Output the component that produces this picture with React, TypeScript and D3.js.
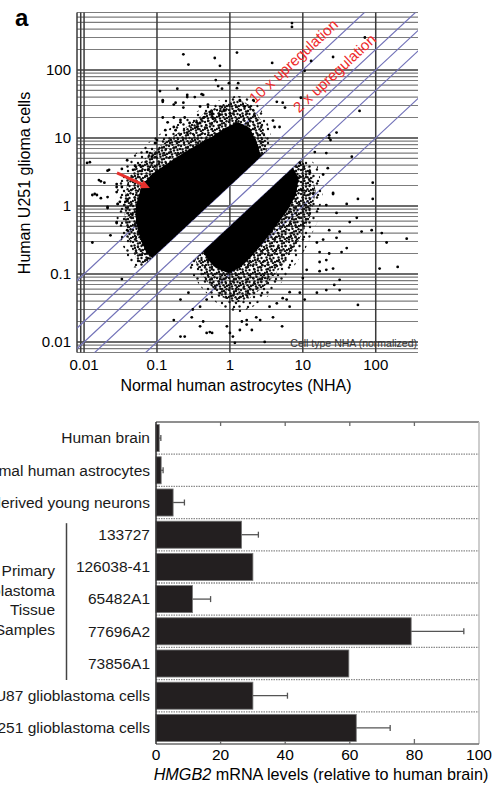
import React from 'react';
import * as d3 from 'd3';

// ---- scatter (panel a) data ----
const decadeTicks = [0.01, 0.1, 1, 10, 100];
const decadeLabels = ['0.01', '0.1', '1', '10', '100'];
const extraVerticalGrid = [0.008, 0.009];
const foldLines = [10, 2, 1, 0.5, 0.1];

// outlines of the dense parts of the two clouds [NHA, U251]
const upperCoreOutline: [number, number][] = [
  [0.0515, 1.03], [0.0623, 2.04], [0.0855, 2.96], [0.129, 4.0], [0.207, 5.62], [0.332, 7.63],
  [0.532, 10], [0.855, 14], [1.29, 17.2], [1.88, 14], [2.42, 7.89], [2.66, 5.32],
  [0.0855, 0.171], [0.0707, 0.211], [0.0585, 0.338], [0.0515, 0.58],
];
const upperHaloOutline: [number, number][] = [
  [0.0353, 1.22], [0.0401, 2.41], [0.055, 4.0], [0.0855, 6.22], [0.1415, 9.35], [0.242, 14],
  [0.413, 21.8], [0.73, 30.6], [1.29, 36.2], [2.0, 30.6], [2.74, 17.2], [3.11, 10], [3.21, 6.42],
  [0.0707, 0.141], [0.055, 0.15], [0.0427, 0.267], [0.0365, 0.58],
];
const upperFringeOutline: [number, number][] = [
  [0.027, 1.22], [0.031, 3.0], [0.043, 5.0], [0.068, 7.8], [0.113, 11.7], [0.2, 16.5],
  [0.36, 25], [0.65, 35], [1.25, 42], [2.2, 36], [3.2, 19], [3.7, 10.5], [3.8, 7.6],
  [0.062, 0.124], [0.045, 0.125], [0.034, 0.26], [0.028, 0.58],
];
const lowerCoreOutline: [number, number][] = [
  [0.427, 0.2135], [7.29, 3.65], [8.81, 2.58], [8.02, 1.45], [6.23, 0.873], [4.27, 0.508],
  [2.92, 0.296], [2.0, 0.184], [1.37, 0.1225], [0.939, 0.1035], [0.643, 0.1225], [0.5, 0.161],
];
const lowerHaloOutline: [number, number][] = [
  [0.332, 0.166], [9.4, 4.7], [12.9, 3.38], [15.1, 1.61], [12.5, 0.667], [8.55, 0.296],
  [5.3, 0.1355], [3.11, 0.0689], [1.88, 0.0444], [1.21, 0.0375], [0.777, 0.0459], [0.5, 0.0738], [0.376, 0.115],
];
const lowerFringeOutline: [number, number][] = [
  [0.27, 0.135], [11, 5.5], [16, 3.8], [19, 1.6], [16, 0.6], [11, 0.24], [6.5, 0.1],
  [3.6, 0.05], [2.0, 0.032], [1.2, 0.026], [0.7, 0.035], [0.42, 0.06], [0.3, 0.1],
];

// scattered single genes [NHA, U251]
const outlierPoints: [number, number][] = [
  [0.23, 170], [0.27, 120], [0.62, 150], [0.73, 115], [1.25, 180], [0.64, 71], [0.69, 58], [0.78, 53],
  [0.97, 64], [1.25, 54], [1.3, 64], [0.011, 4.3], [0.021, 3.3], [0.017, 2.3], [0.019, 2.2], [0.028, 2.1],
  [0.039, 2.6], [0.047, 3.4], [0.05, 3.9], [0.12, 36], [0.11, 49], [0.19, 53], [0.18, 33], [0.23, 28],
  [0.26, 40], [0.33, 40], [0.43, 43], [0.39, 29], [0.5, 31], [0.53, 24], [0.12, 20], [0.17, 20],
  [0.21, 17], [0.24, 20], [0.17, 14.5], [0.13, 13], [0.26, 12], [0.35, 14.5], [0.39, 16.6], [0.58, 20],
  [0.73, 22], [0.013, 1.45], [0.021, 1.35], [0.028, 1.6], [0.033, 1.9], [0.073, 6.2], [0.085, 5.3],
  [0.058, 4], [0.1, 9.3], [0.094, 8.4], [0.075, 3.4],
  [7.1, 490], [7.1, 430], [3.8, 127], [13, 136], [26, 155], [10.6, 97], [71, 300], [9.4, 39], [60, 25],
  [23, 11], [29, 12], [23, 10], [24, 9.3], [14.6, 6.2], [21, 6], [9.1, 4.3], [47, 5.3], [22, 3.6],
  [19, 2.9], [12.5, 3.1], [26, 1.55], [91, 2.2], [14, 1.55], [9.7, 1.7], [4.4, 34], [5.3, 33], [5.7, 28],
  [1.6, 29], [2.1, 36], [4.1, 14.5], [3.9, 18], [4.8, 14.5],
  [26, 1.5], [57, 1.27], [91, 1.27], [40, 1.07], [21, 1.03], [29, 0.79], [55, 0.67], [88, 0.44],
  [121, 0.4], [141, 0.29], [266, 0.33], [44, 0.58], [32, 0.42], [64, 0.42], [23, 0.44], [29, 0.34],
  [19, 0.32], [15.6, 0.29], [40, 0.24], [34, 0.21], [23, 0.2], [17, 0.21], [21, 0.16], [17, 0.15],
  [26, 0.12], [21, 0.115], [11.3, 0.115], [17, 0.11], [113, 0.12], [200, 0.127], [32, 0.082], [32, 0.058],
  [10, 0.087], [10.6, 0.042], [6.6, 0.054], [5.3, 0.044], [57, 0.035], [6.6, 0.033], [3.9, 0.023],
  [5.2, 0.017], [2.6, 0.021], [2, 0.015], [3, 0.01], [1.7, 0.018], [1.46, 0.02],
  [0.015, 1.45], [0.021, 0.97], [0.029, 1.07], [0.037, 1.15], [0.028, 0.58], [0.046, 0.74], [0.058, 0.67],
  [0.039, 0.44], [0.064, 0.27], [0.073, 0.2], [0.075, 0.17], [0.033, 0.084], [0.21, 0.042], [0.27, 0.053],
  [0.21, 0.012], [0.24, 0.012], [0.48, 0.0136], [0.53, 0.014], [0.39, 0.017], [0.43, 0.02], [0.17, 0.021],
  [0.3, 0.023], [0.31, 0.03], [0.39, 0.033], [0.48, 0.042], [0.91, 0.017], [1, 0.0136], [1.1, 0.012],
  [1.37, 0.015], [1.17, 0.0097],
  [0.57, 0.0136], [1.7, 0.021], [2.3, 0.023], [3.5, 0.033], [4.4, 0.037], [6, 0.042], [9.1, 0.053],
  [15.6, 0.053], [21, 0.058], [27, 0.069],
  [0.012, 4.4], [0.022, 3.4], [0.033, 3.5], [0.016, 2.4], [0.014, 1.5], [0.017, 1.3], [0.028, 1.9],
  [0.031, 1.15], [0.039, 1.2], [0.021, 0.93], [0.013, 0.29], [0.023, 0.37], [0.028, 0.56], [0.039, 4.7],
  [0.12, 34], [0.17, 31], [0.23, 33], [0.26, 43], [0.41, 44], [0.14, 17], [0.21, 18.4], [0.18, 13],
  [0.28, 16.6], [0.35, 17], [0.44, 20], [0.57, 23], [0.83, 26], [1, 23], [1.37, 36],
];
const arrowFrom: [number, number] = [0.0283, 3.06];
const arrowTo: [number, number] = [0.08, 1.84];

// ---- bar chart data ----
const barCategories = [
  'Human brain', 'Normal human astrocytes', 'ESC-derived young neurons', '133727', '126038-41',
  '65482A1', '77696A2', '73856A1', 'U87 glioblastoma cells', 'U251 glioblastoma cells',
];
const barValues = [1.0, 1.6, 5.3, 26.5, 30.0, 11.3, 79.0, 59.7, 30.0, 62.0];
const barErrors = [0.5, 0.6, 3.5, 5.2, 0, 5.6, 16.3, 0, 10.7, 10.5];
const barTicks = [0, 20, 40, 60, 80, 100];
const groupLabel = ['Primary', 'Glioblastoma', 'Tissue', 'Samples'];

const font = 'Liberation Sans, Arial, Helvetica, sans-serif';

// irregular speckle tiles used to fill the fringes of the clouds
const speckleDots = [
  [1, 2], [4.5, 0.8], [8, 3], [10.5, 1.2], [2.5, 5.5], [6, 6.5], [9.5, 6], [0.8, 9],
  [4, 10.5], [7.5, 9.3], [11, 10], [6, 3.5], [3, 8], [9, 11.2],
];
const sparseDots = [[2, 3], [9, 1.5], [5.5, 8], [12, 9], [1.5, 12.5], [10, 13]];

const App = () => {
  // scatter scales
  const x = d3.scaleLog().domain([0.008, 380]).range([77, 418]);
  const y = d3.scaleLog().domain([0.007, 700]).range([352.5, 12.5]);
  const yGrid = y.ticks();
  const isDecade = (v: number) => Math.abs(Math.log10(v) - Math.round(Math.log10(v))) < 1e-6;
  const outline = d3.line<[number, number]>().x(d => x(d[0])).y(d => y(d[1])).curve(d3.curveLinearClosed);

  // bar scales
  const xb = d3.scaleLinear().domain([0, 100]).range([156, 479]);
  const pad = 0.16;
  const yb = d3.scaleBand().domain(barCategories).range([422, 744]).paddingInner(pad).paddingOuter(pad / 2);
  const step = yb.step();

  const ax = x(arrowFrom[0]), ay = y(arrowFrom[1]);
  const hx = x(arrowTo[0]), hy = y(arrowTo[1]);
  const ang = Math.atan2(hy - ay, hx - ax);
  const head = [
    [hx, hy],
    [hx - 9 * Math.cos(ang) + 4.5 * Math.sin(ang), hy - 9 * Math.sin(ang) - 4.5 * Math.cos(ang)],
    [hx - 9 * Math.cos(ang) - 4.5 * Math.sin(ang), hy - 9 * Math.sin(ang) + 4.5 * Math.cos(ang)],
  ];

  return (
    <svg width={499} height={785} style={{ position: 'absolute', left: 0, top: 0, fontFamily: font }}>
      <defs>
        <clipPath id="plotClip">
          <rect x={77} y={12.5} width={341} height={340} />
        </clipPath>
        <pattern id="speckle" width={12} height={12} patternUnits="userSpaceOnUse">
          {speckleDots.map((d, i) => (
            <circle key={i} cx={d[0]} cy={d[1]} r={1.2} fill="#111" />
          ))}
        </pattern>
        <pattern id="sparse" width={14} height={14} patternUnits="userSpaceOnUse">
          {sparseDots.map((d, i) => (
            <circle key={i} cx={d[0]} cy={d[1]} r={1.2} fill="#111" />
          ))}
        </pattern>
      </defs>

      {/* panel label */}
      <text x={15} y={26} fontSize={24} fontWeight="bold">a</text>

      {/* grid */}
      {yGrid.map((v, i) => (
        <line key={'h' + i} x1={77} x2={418} y1={y(v)} y2={y(v)}
          stroke={isDecade(v) ? '#3a3a3a' : '#7c7c7c'} strokeWidth={isDecade(v) ? 1.6 : 1.2} />
      ))}
      {[...extraVerticalGrid, ...decadeTicks].map((v, i) => (
        <line key={'v' + i} x1={x(v)} x2={x(v)} y1={12.5} y2={352.5} stroke="#3a3a3a" strokeWidth={1.5} />
      ))}

      <g clipPath="url(#plotClip)">
        {foldLines.map(k => (
          <line key={'f' + k} x1={x(0.001)} y1={y(0.001 * k)} x2={x(1000)} y2={y(1000 * k)}
            stroke="#7272b8" strokeWidth={1.2} />
        ))}
        <path d={outline(upperFringeOutline) ?? ''} fill="url(#sparse)" />
        <path d={outline(lowerFringeOutline) ?? ''} fill="url(#sparse)" />
        <path d={outline(upperHaloOutline) ?? ''} fill="url(#speckle)" />
        <path d={outline(lowerHaloOutline) ?? ''} fill="url(#speckle)" />
        <path d={outline(upperCoreOutline) ?? ''} fill="#000" />
        <path d={outline(lowerCoreOutline) ?? ''} fill="#000" />
        {outlierPoints.map((p, i) => (
          <circle key={'p' + i} cx={x(p[0])} cy={y(p[1])} r={1.4} fill="#000" />
        ))}
      </g>

      {/* arrow */}
      <line x1={ax} y1={ay} x2={hx - 6 * Math.cos(ang)} y2={hy - 6 * Math.sin(ang)} stroke="#e8302c" strokeWidth={3} />
      <polygon points={head.map(p => p.join(',')).join(' ')} fill="#e8302c" />

      {/* fold labels */}
      <text transform="translate(297,65) rotate(-43)" textAnchor="middle" fontSize={15} fill="#ee2a2a">10 x upregulation</text>
      <text transform="translate(338,77) rotate(-43)" textAnchor="middle" fontSize={15} fill="#ee2a2a">2 x upregulation</text>

      <text x={417} y={347} textAnchor="end" fontSize={10.5} fill="#333">Cell type NHA (normalized)</text>

      {/* scatter axes */}
      {decadeTicks.map((v, i) => (
        <text key={'xt' + i} x={x(v)} y={370} textAnchor="middle" fontSize={15}>{decadeLabels[i]}</text>
      ))}
      {decadeTicks.map((v, i) => (
        <text key={'yt' + i} x={71} y={y(v) + 5.3} textAnchor="end" fontSize={15}>{decadeLabels[i]}</text>
      ))}
      <text x={236} y={391} textAnchor="middle" fontSize={16}>Normal human astrocytes (NHA)</text>
      <text transform="translate(30,183) rotate(-90)" textAnchor="middle" fontSize={16}>Human U251 glioma cells</text>

      {/* ---- bar chart ---- */}
      {barCategories.slice(1).map((c, i) => {
        const yy = (yb(c) ?? 0) - (step * pad) / 2;
        return (
          <line key={'sep' + i} x1={xb(0)} x2={xb(100)} y1={yy} y2={yy}
            stroke="#8a8a8a" strokeWidth={1.3} strokeDasharray="1.5,1" />
        );
      })}
      <line x1={xb(0)} x2={xb(100)} y1={422} y2={422} stroke="#6a6a6a" strokeWidth={1.5} />
      <line x1={xb(100)} x2={xb(100)} y1={422} y2={744} stroke="#bdbdbd" strokeWidth={1.5} />
      <line x1={xb(0)} x2={xb(100)} y1={744} y2={744} stroke="#6a6a6a" strokeWidth={1.5} />
      {barTicks.slice(1, -1).map(t => (
        <g key={'bt' + t}>
          <line x1={xb(t)} x2={xb(t)} y1={422} y2={426} stroke="#6a6a6a" strokeWidth={1.3} />
          <line x1={xb(t)} x2={xb(t)} y1={744} y2={739} stroke="#6a6a6a" strokeWidth={1.3} />
        </g>
      ))}

      {barCategories.map((c, i) => {
        const top = yb(c) ?? 0;
        const cy = top + yb.bandwidth() / 2;
        return (
          <g key={'bar' + i}>
            <rect x={xb(0)} y={top} width={xb(barValues[i]) - xb(0)} height={yb.bandwidth()}
              fill="#231f20" stroke="#777" strokeWidth={0.8} />
            {barErrors[i] > 0 && (
              <g stroke="#555" strokeWidth={1.3}>
                <line x1={xb(barValues[i])} x2={xb(barValues[i] + barErrors[i])} y1={cy} y2={cy} />
                <line x1={xb(barValues[i] + barErrors[i])} x2={xb(barValues[i] + barErrors[i])} y1={cy - 3} y2={cy + 3} />
              </g>
            )}
            <text x={150} y={cy + 5.3} textAnchor="end" fontSize={15.5} fill="#1a1a1a">{c}</text>
          </g>
        );
      })}
      <line x1={xb(0)} x2={xb(0)} y1={422} y2={744} stroke="#333" strokeWidth={1.5} />

      {/* group bracket */}
      <line x1={66.5} x2={66.5} y1={(yb('133727') ?? 0) + 2} y2={(yb('73856A1') ?? 0) + yb.bandwidth() + 3}
        stroke="#444" strokeWidth={1.5} />
      {groupLabel.map((t, i) => (
        <text key={'g' + i} x={55} y={576 + i * 19.5} textAnchor="end" fontSize={15.5} fill="#1a1a1a">{t}</text>
      ))}

      {barTicks.map(t => (
        <text key={'bl' + t} x={xb(t)} y={760} textAnchor="middle" fontSize={15.5}>{t}</text>
      ))}
      <text x={321} y={780} textAnchor="middle" fontSize={16.2}>
        <tspan fontStyle="italic">HMGB2</tspan> mRNA levels (relative to human brain)
      </text>
    </svg>
  );
};

export default App;
